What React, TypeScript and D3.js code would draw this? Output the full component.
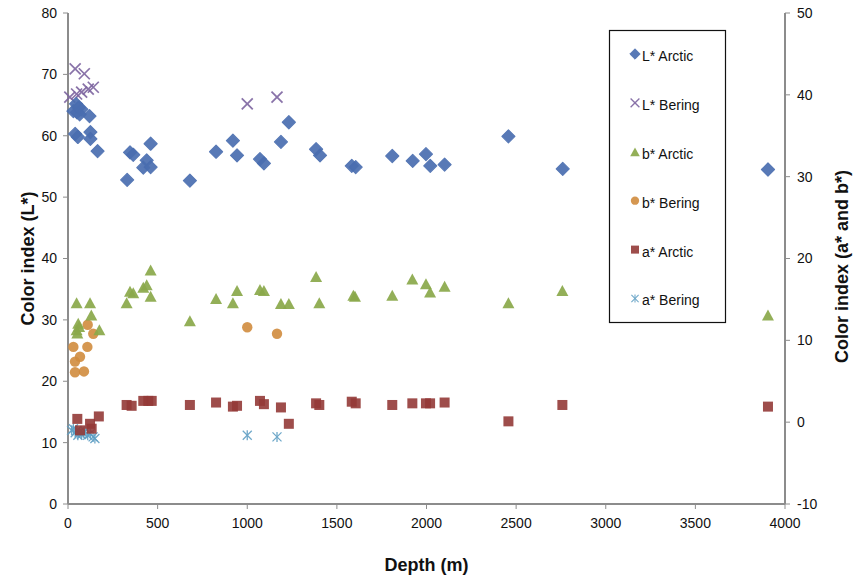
import React from "react";
import * as d3 from "d3";

// [depth (m), value]
const lArctic: [number, number][] = [
  [30, 64.0], [40, 60.3], [45, 65.2], [50, 63.8], [55, 59.8], [60, 64.6], [65, 63.5], [75, 64.3],
  [120, 63.2], [125, 60.6], [125, 59.5], [165, 57.5],
  [330, 52.8], [346, 57.3], [364, 56.9], [420, 54.8], [439, 56.0], [461, 58.7], [461, 54.9],
  [680, 52.7], [826, 57.4], [920, 59.2], [943, 56.8], [1071, 56.2], [1093, 55.5], [1188, 59.0], [1232, 62.2],
  [1384, 57.8], [1406, 56.8], [1583, 55.1], [1605, 54.9], [1809, 56.7], [1923, 55.9], [1997, 57.0],
  [2021, 55.1], [2101, 55.3], [2457, 59.9], [2760, 54.6], [3905, 54.5],
];
const lBering: [number, number][] = [
  [10, 66.3], [40, 70.9], [48, 66.8], [76, 67.1], [91, 70.1], [113, 67.6], [141, 67.9],
  [1000, 65.2], [1166, 66.3],
];
const bArctic: [number, number][] = [
  [48, 14.6], [57, 12.1], [62, 11.7], [48, 11.3], [52, 10.9], [123, 14.6], [130, 13.1], [175, 11.3],
  [327, 14.6], [346, 16.0], [364, 15.8], [420, 16.5], [439, 16.8], [461, 18.6], [461, 15.4],
  [680, 12.4], [826, 15.1], [920, 14.6], [943, 16.1], [1071, 16.2], [1093, 16.1], [1188, 14.5], [1232, 14.5],
  [1384, 17.8], [1402, 14.6], [1592, 15.5], [1601, 15.4], [1809, 15.5], [1921, 17.5], [1997, 16.9],
  [2020, 15.9], [2101, 16.6], [2457, 14.6], [2758, 16.1], [3905, 13.1],
];
const bBering: [number, number][] = [
  [30, 9.2], [108, 9.2], [39, 7.4], [67, 8.0], [39, 6.1], [89, 6.2], [110, 11.9], [141, 10.8],
  [1000, 11.6], [1166, 10.8],
];
const aArctic: [number, number][] = [
  [52, 0.4], [123, -0.2], [172, 0.7], [67, -1.0], [132, -0.8],
  [327, 2.1], [355, 2.0], [420, 2.6], [448, 2.6], [467, 2.6],
  [680, 2.1], [826, 2.4], [920, 1.9], [943, 2.0], [1071, 2.6], [1093, 2.2], [1188, 1.8], [1232, -0.2],
  [1384, 2.3], [1402, 2.1], [1583, 2.5], [1605, 2.3], [1809, 2.1], [1921, 2.3], [1997, 2.3], [2020, 2.3],
  [2101, 2.4], [2457, 0.1], [2758, 2.1], [3905, 1.9],
];
const aBering: [number, number][] = [
  [20, -1.0], [30, -0.8], [40, -1.3], [50, -1.0], [55, -1.6], [65, -1.2], [75, -1.5], [85, -1.3],
  [95, -1.1], [110, -1.6], [125, -1.4], [140, -1.8], [150, -2.0], [1000, -1.6], [1166, -1.8],
];

const xTicks = [0, 500, 1000, 1500, 2000, 2500, 3000, 3500, 4000];
const leftTicks = [0, 10, 20, 30, 40, 50, 60, 70, 80];
const rightTicks = [-10, 0, 10, 20, 30, 40, 50];

const C = {
  lArctic: "#4a6eb0",
  lBering: "#7d64a0",
  bArctic: "#8aa84a",
  bBering: "#d08c3e",
  aArctic: "#943a37",
  aBering: "#5f9fc4",
};

const left = 68, right = 785, top = 13, bottom = 504;
const x = d3.scaleLinear().domain([0, 4000]).range([left, right]);
const yL = d3.scaleLinear().domain([0, 80]).range([bottom, top]);
const yR = d3.scaleLinear().domain([-10, 50]).range([bottom, top]);

const circle = d3.symbol(d3.symbolCircle, 85)()!;

function Marker({ kind, cx, cy }: { kind: string; cx: number; cy: number }) {
  const t = `translate(${cx},${cy})`;
  switch (kind) {
    case "lArctic":
      return (
        <path d="M0,-6.5L6.5,0L0,6.5L-6.5,0Z" transform={t} fill={C.lArctic} opacity={0.92}
          stroke={C.lArctic} strokeWidth={1.2} strokeLinejoin="round" />
      );
    case "lBering":
      return (
        <g transform={t} stroke={C.lBering} strokeWidth={1.7} opacity={0.9}>
          <line x1={-5.5} y1={-5.5} x2={5.5} y2={5.5} />
          <line x1={-5.5} y1={5.5} x2={5.5} y2={-5.5} />
        </g>
      );
    case "bArctic":
      return <path d="M0,-5.5L6,5.5L-6,5.5Z" transform={t} fill={C.bArctic} opacity={0.92} />;
    case "bBering":
      return <path d={circle} transform={t} fill={C.bBering} opacity={0.9} />;
    case "aArctic":
      return <rect x={cx - 5} y={cy - 5} width={10} height={10} fill={C.aArctic} opacity={0.9} />;
    default:
      return (
        <g transform={t} stroke={C.aBering} strokeWidth={1.3} opacity={0.9}>
          <line x1={-4.5} y1={-4.5} x2={4.5} y2={4.5} />
          <line x1={-4.5} y1={4.5} x2={4.5} y2={-4.5} />
          <line x1={0} y1={-5} x2={0} y2={5} />
        </g>
      );
  }
}

const legendItems = [
  { kind: "lArctic", label: "L* Arctic" },
  { kind: "lBering", label: "L* Bering" },
  { kind: "bArctic", label: "b* Arctic" },
  { kind: "bBering", label: "b* Bering" },
  { kind: "aArctic", label: "a* Arctic" },
  { kind: "aBering", label: "a* Bering" },
];

export default function App() {
  const font = "'Liberation Sans', Arial, sans-serif";
  const axisColor = "#8c8c8c";
  const series: { kind: string; data: [number, number][]; y: d3.ScaleLinear<number, number> }[] = [
    { kind: "aBering", data: aBering, y: yR },
    { kind: "aArctic", data: aArctic, y: yR },
    { kind: "bBering", data: bBering, y: yR },
    { kind: "bArctic", data: bArctic, y: yR },
    { kind: "lBering", data: lBering, y: yL },
    { kind: "lArctic", data: lArctic, y: yL },
  ];
  return (
    <svg width={855} height={581} style={{ position: "absolute", left: 0, top: 0, background: "#fff" }} fontFamily={font}>
      <rect width={855} height={581} fill="#fff" />
      {/* axes */}
      <line x1={left} y1={top} x2={left} y2={bottom} stroke={axisColor} strokeWidth={2} />
      <line x1={right} y1={top} x2={right} y2={bottom} stroke={axisColor} strokeWidth={2} />
      <line x1={left} y1={bottom} x2={right} y2={bottom} stroke={axisColor} strokeWidth={2} />
      {leftTicks.map((t) => (
        <g key={"l" + t}>
          <line x1={left - 5} x2={left} y1={yL(t)} y2={yL(t)} stroke={axisColor} />
          <text x={left - 11} y={yL(t)} dy="0.35em" textAnchor="end" fontSize={14} fill="#111">{t}</text>
        </g>
      ))}
      {rightTicks.map((t) => (
        <g key={"r" + t}>
          <line x1={right} x2={right + 5} y1={yR(t)} y2={yR(t)} stroke={axisColor} />
          <text x={right + 12} y={yR(t)} dy="0.35em" textAnchor="start" fontSize={14} fill="#111">{t}</text>
        </g>
      ))}
      {xTicks.map((t) => (
        <g key={"x" + t}>
          <line x1={x(t)} x2={x(t)} y1={bottom} y2={bottom + 5} stroke={axisColor} />
          <text x={x(t)} y={bottom + 19} dy="0.35em" textAnchor="middle" fontSize={14} fill="#111">{t}</text>
        </g>
      ))}
      {/* axis titles */}
      <text transform={`translate(34,${(top + bottom) / 2}) rotate(-90)`} textAnchor="middle" fontSize={18} fontWeight="bold" fill="#111">Color index (L*)</text>
      <text transform={`translate(848,${(top + bottom) / 2 + 8}) rotate(-90)`} textAnchor="middle" fontSize={18} fontWeight="bold" fill="#111">Color index (a* and b*)</text>
      <text x={(left + right) / 2} y={571} textAnchor="middle" fontSize={18} fontWeight="bold" fill="#111">Depth (m)</text>
      {/* points */}
      {series.map((s) => (
        <g key={s.kind}>
          {s.data.map((d, i) => (
            <Marker key={i} kind={s.kind} cx={x(d[0])} cy={s.y(d[1])} />
          ))}
        </g>
      ))}
      {/* legend */}
      <rect x={609.5} y={30.5} width={116} height={292} fill="#fff" stroke="#111" strokeWidth={1.2} />
      {legendItems.map((it, i) => {
        const ly = 56 + i * 48.9;
        return (
          <g key={it.kind}>
            <g transform={`translate(635,${ly - 2}) scale(0.8)`}>
              <Marker kind={it.kind} cx={0} cy={0} />
            </g>
            <text x={642} y={ly} dy="0.35em" fontSize={14} fill="#111">{it.label}</text>
          </g>
        );
      })}
    </svg>
  );
}
